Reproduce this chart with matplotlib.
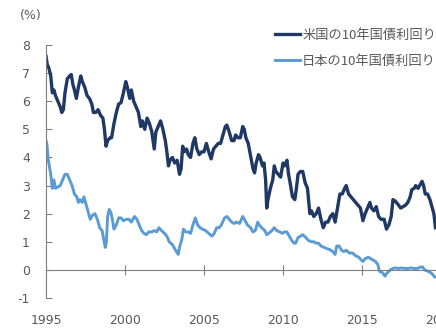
import matplotlib
matplotlib.use("Agg")
import matplotlib.pyplot as plt

plt.rcParams['font.family'] = ['DejaVu Sans', 'Noto Sans CJK JP']
plt.rcParams['axes.unicode_minus'] = False

# US 10y yield
us_year = [1995.0, 1995.08, 1995.17, 1995.3, 1995.4, 1995.5, 1995.6, 1995.75, 1995.9,
           1996.0, 1996.1, 1996.2, 1996.35, 1996.5, 1996.6, 1996.7, 1996.8, 1996.92,
           1997.05, 1997.2, 1997.3, 1997.45, 1997.6, 1997.75, 1997.9,
           1998.0, 1998.15, 1998.3, 1998.45, 1998.6, 1998.7, 1998.8, 1998.9,
           1999.05, 1999.15, 1999.3, 1999.45, 1999.6, 1999.75, 1999.9,
           2000.05, 2000.15, 2000.3, 2000.4, 2000.55, 2000.7, 2000.85,
           2001.0, 2001.1, 2001.25, 2001.4, 2001.55, 2001.7, 2001.85, 2001.95,
           2002.1, 2002.25, 2002.4, 2002.55, 2002.65, 2002.75, 2002.85,
           2003.0, 2003.15, 2003.3, 2003.45, 2003.55, 2003.65, 2003.75, 2003.9,
           2004.0, 2004.15, 2004.3, 2004.42, 2004.55, 2004.7, 2004.85,
           2005.0, 2005.15, 2005.3, 2005.45, 2005.6, 2005.75, 2005.9,
           2006.05, 2006.2, 2006.35, 2006.45, 2006.6, 2006.75, 2006.9,
           2007.0, 2007.15, 2007.3, 2007.45, 2007.55, 2007.65, 2007.8, 2007.9,
           2008.0, 2008.1, 2008.2, 2008.3, 2008.45, 2008.55, 2008.7, 2008.8, 2008.9, 2008.97,
           2009.05, 2009.2, 2009.35, 2009.45, 2009.55, 2009.7, 2009.85,
           2010.0, 2010.1, 2010.25, 2010.35, 2010.45, 2010.6, 2010.75, 2010.85, 2010.95,
           2011.1, 2011.25, 2011.4, 2011.55, 2011.7, 2011.8, 2011.95,
           2012.1, 2012.25, 2012.4, 2012.55, 2012.7, 2012.85,
           2013.0, 2013.15, 2013.3, 2013.45, 2013.6, 2013.75, 2013.9,
           2014.0, 2014.15, 2014.3, 2014.45, 2014.6, 2014.75, 2014.9,
           2015.06, 2015.2, 2015.35, 2015.5, 2015.6, 2015.75, 2015.9,
           2016.05, 2016.2, 2016.4, 2016.55, 2016.7, 2016.85, 2016.96,
           2017.1, 2017.25, 2017.45, 2017.6, 2017.75, 2017.9,
           2018.05, 2018.15, 2018.3, 2018.4, 2018.55, 2018.7, 2018.8, 2018.9,
           2019.0, 2019.15, 2019.3, 2019.45, 2019.55, 2019.65]
us_yield = [7.6, 7.3, 7.2, 6.9, 6.3, 6.4, 6.2, 6.0, 5.8,
            5.6, 5.7, 6.3, 6.8, 6.9, 6.95, 6.6, 6.4, 6.1,
            6.5, 6.9, 6.7, 6.5, 6.2, 6.1, 5.9,
            5.6, 5.6, 5.7, 5.5, 5.4, 5.0, 4.4, 4.6,
            4.7, 4.7, 5.2, 5.6, 5.9, 5.95, 6.3,
            6.7, 6.5, 6.1, 6.4, 6.0, 5.8, 5.6,
            5.1, 5.3, 5.0, 5.4, 5.2, 4.9, 4.3, 4.9,
            5.1, 5.3, 5.0, 4.6, 4.2, 3.7, 3.9,
            4.0, 3.8, 3.9, 3.4, 3.6, 4.4, 4.2, 4.3,
            4.1, 4.0, 4.5, 4.7, 4.3, 4.1, 4.2,
            4.2, 4.5, 4.2, 3.95, 4.3, 4.4, 4.5,
            4.5, 4.8, 5.1, 5.15, 4.9, 4.6, 4.6,
            4.8, 4.7, 4.7, 5.1, 5.0, 4.7, 4.5, 4.2,
            3.9, 3.6, 3.45, 3.8, 4.1, 4.0, 3.7, 3.8, 3.2, 2.2,
            2.5, 2.9, 3.2, 3.7, 3.5, 3.4, 3.3,
            3.8, 3.7, 3.9, 3.4, 3.1, 2.6, 2.5, 2.9, 3.4,
            3.5, 3.5, 3.1, 2.9, 2.0, 2.1, 1.9,
            2.0, 2.2, 1.8, 1.5, 1.7, 1.7,
            1.9, 2.0, 1.7, 2.2, 2.7, 2.7, 2.9,
            3.0, 2.7, 2.6, 2.5, 2.4, 2.3, 2.2,
            1.75, 2.0, 2.2, 2.4, 2.2, 2.1, 2.25,
            1.9, 1.8, 1.8, 1.45, 1.6, 1.9, 2.5,
            2.45, 2.35, 2.2, 2.25, 2.3, 2.4,
            2.6, 2.85, 2.9, 3.0, 2.9, 3.05, 3.15, 3.0,
            2.7, 2.7, 2.5, 2.2, 2.0, 1.5]

# Japan 10y yield
jp_year = [1995.0, 1995.05, 1995.15, 1995.3, 1995.4, 1995.5, 1995.6, 1995.75, 1995.9,
           1996.05, 1996.2, 1996.35, 1996.5, 1996.65, 1996.8, 1996.95,
           1997.05, 1997.15, 1997.3, 1997.4, 1997.55, 1997.7, 1997.8, 1997.95,
           1998.1, 1998.25, 1998.4, 1998.55, 1998.65, 1998.75, 1998.82, 1998.9,
           1999.0, 1999.1, 1999.2, 1999.3, 1999.45, 1999.6, 1999.75, 1999.9,
           2000.1, 2000.25, 2000.4, 2000.6, 2000.75, 2000.9,
           2001.05, 2001.2, 2001.35, 2001.5, 2001.7, 2001.85,
           2002.0, 2002.15, 2002.3, 2002.5, 2002.65, 2002.8,
           2003.0, 2003.2, 2003.37, 2003.45, 2003.6, 2003.7, 2003.85,
           2004.0, 2004.15, 2004.3, 2004.45, 2004.6, 2004.75, 2004.9,
           2005.1, 2005.3, 2005.5, 2005.65, 2005.8, 2005.95,
           2006.1, 2006.3, 2006.45, 2006.6, 2006.75, 2006.9,
           2007.05, 2007.25, 2007.45, 2007.6, 2007.75, 2007.95,
           2008.1, 2008.25, 2008.4, 2008.5, 2008.65, 2008.85, 2008.97,
           2009.1, 2009.3, 2009.45, 2009.6, 2009.8, 2009.95,
           2010.1, 2010.25, 2010.4, 2010.55, 2010.7, 2010.8, 2010.95,
           2011.1, 2011.25, 2011.45, 2011.6, 2011.8, 2011.95,
           2012.1, 2012.25, 2012.4, 2012.6, 2012.8, 2012.97,
           2013.15, 2013.3, 2013.4, 2013.55, 2013.7, 2013.85,
           2014.0, 2014.2, 2014.4, 2014.6, 2014.8, 2014.95,
           2015.06, 2015.2, 2015.4, 2015.55, 2015.7, 2015.85,
           2016.0, 2016.1, 2016.3, 2016.45, 2016.6, 2016.8, 2016.95,
           2017.1, 2017.3, 2017.5, 2017.7, 2017.9,
           2018.1, 2018.3, 2018.5, 2018.7, 2018.85, 2018.95,
           2019.1, 2019.3, 2019.45, 2019.6]
jp_yield = [4.6, 4.5, 3.9, 3.4, 2.9, 3.2, 2.9, 2.95, 3.0,
            3.2, 3.4, 3.4, 3.2, 3.0, 2.7, 2.6,
            2.4, 2.5, 2.4, 2.6, 2.3, 2.0, 1.8, 1.95,
            2.0, 1.8, 1.5, 1.4, 1.1, 0.8, 1.0, 1.9,
            2.15, 2.05, 1.8, 1.45, 1.6, 1.85, 1.85, 1.75,
            1.8, 1.8, 1.7, 1.9, 1.8, 1.6,
            1.4, 1.3, 1.25, 1.35, 1.35, 1.4,
            1.35, 1.5, 1.4, 1.3, 1.2, 1.0,
            0.9, 0.7, 0.55, 0.8, 1.1, 1.45, 1.35,
            1.35, 1.3, 1.6, 1.85, 1.6, 1.5, 1.45,
            1.4, 1.3, 1.2, 1.3, 1.5, 1.5,
            1.6, 1.85, 1.9, 1.8, 1.7, 1.65,
            1.7, 1.65, 1.9, 1.75, 1.6, 1.5,
            1.35, 1.4, 1.7, 1.6, 1.5, 1.4, 1.25,
            1.3, 1.4, 1.5, 1.4, 1.35, 1.3,
            1.35, 1.35, 1.2, 1.05, 0.95, 0.95, 1.15,
            1.2, 1.25, 1.15, 1.05, 1.0, 1.0,
            0.95, 0.95, 0.85, 0.8, 0.75, 0.72,
            0.65, 0.55, 0.85, 0.85, 0.7, 0.65,
            0.7, 0.6, 0.6, 0.5, 0.45, 0.35,
            0.3, 0.4, 0.45, 0.4, 0.35, 0.3,
            0.2, -0.05, -0.1, -0.22, -0.1, 0.0, 0.05,
            0.07, 0.05, 0.07, 0.05, 0.05,
            0.07, 0.05, 0.05, 0.1, 0.1, 0.0,
            -0.03, -0.08, -0.15, -0.25]

labels = ["米国の10年国債利回り", "日本の10年国債利回り"]
year_ticks = [1995, 2000, 2005, 2010, 2015, 2020]

txt = "#595959"
axis_c = "#808080"

fig = plt.figure(figsize=(4.36, 3.28), dpi=100)
ax = fig.add_axes([46 / 436, 1 - 298 / 328, 395 / 436, 253 / 328])

ax.plot(us_year, us_yield, color="#1f3864", lw=2.4, label=labels[0], solid_joinstyle="round")
ax.plot(jp_year, jp_yield, color="#5b9bd5", lw=2.1, label=labels[1], solid_joinstyle="round")

ax.set_xlim(1995, 2020)
ax.set_ylim(-1, 8)
ax.set_yticks(range(-1, 9))
ax.set_xticks(year_ticks)

for s in ["top", "right"]:
    ax.spines[s].set_visible(False)
ax.spines["left"].set_color(axis_c)
ax.spines["bottom"].set_color(axis_c)
ax.spines["bottom"].set_position(("data", 0))

ax.tick_params(axis="y", direction="in", length=4.5, color=axis_c, labelcolor=txt,
               labelsize=9, pad=11.5)
ax.tick_params(axis="x", direction="inout", length=7, color=axis_c, labelcolor=txt,
               labelsize=9, pad=28)

fig.text(20 / 436, 1 - 16 / 328, "(%)", color=txt, fontsize=9, va="center", ha="left")

ax.legend(loc="upper left", bbox_to_anchor=(275 / 436, 1 - 29 / 328),
          bbox_transform=fig.transFigure, frameon=False,
          handlelength=1.9, handletextpad=0.15, labelspacing=0.95,
          labelcolor=txt, borderaxespad=0, borderpad=0,
          prop={"family": ["Noto Sans CJK JP"], "size": 9.5})

fig.savefig("out.png", dpi=100)
